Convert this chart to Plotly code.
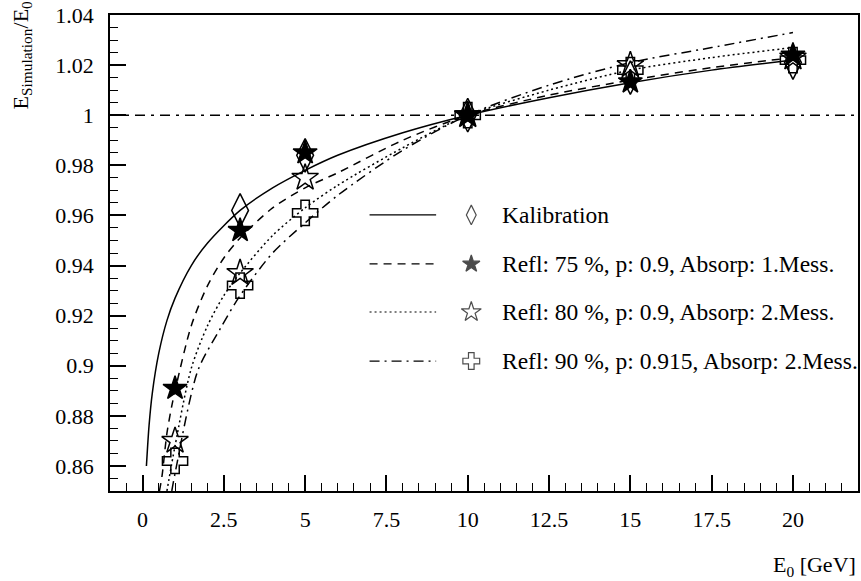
import plotly.graph_objects as go

# ---------------- data ----------------
energies = [1, 3, 5, 10, 15, 20]
kal_x = [3, 5, 10, 15, 20]
kal_y = [0.962, 0.984, 1.000, 1.015, 1.021]
r75_y = [0.891, 0.954, 0.985, 1.000, 1.0133, 1.024]
r80_y = [0.870, 0.937, 0.975, 1.000, 1.020, 1.023]
r90_y = [0.862, 0.932, 0.961, 1.000, 1.018, 1.022]

# fitted curves
kal_fit_x = [0.12, 0.2, 0.3, 0.5, 0.75, 1, 1.5, 2, 3, 4, 5, 6, 8, 10, 12.5, 15, 17.5, 20]
kal_fit_y = [0.860, 0.876, 0.889, 0.905, 0.918, 0.927, 0.940, 0.949, 0.962, 0.971, 0.978,
             0.984, 0.993, 1.000, 1.007, 1.013, 1.018, 1.022]
r75_fit_x = [0.52, 0.6, 0.75, 0.9, 1, 1.5, 2, 2.5, 3, 4, 5, 6, 8, 10, 12.5, 15, 17.5, 20]
r75_fit_y = [0.850, 0.856, 0.873, 0.884, 0.890, 0.916, 0.932, 0.943, 0.951, 0.963, 0.971,
             0.977, 0.990, 1.000, 1.008, 1.014, 1.019, 1.023]
r80_fit_x = [0.75, 1, 1.5, 2, 2.5, 3, 4, 5, 6, 8, 10, 12.5, 15, 17.5, 20]
r80_fit_y = [0.850, 0.868, 0.899, 0.916, 0.928, 0.937, 0.952, 0.963, 0.972, 0.987, 1.000,
             1.010, 1.018, 1.023, 1.027]
r90_fit_x = [0.9, 1, 1.7, 2.4, 3, 4, 5, 6, 8, 10, 12.5, 15, 17.5, 20]
r90_fit_y = [0.850, 0.857, 0.898, 0.915, 0.928, 0.945, 0.957, 0.968, 0.986, 1.000, 1.012,
             1.021, 1.027, 1.033]

ref_level = 1.0

legend_labels = ["Kalibration",
                 "Refl: 75 %, p: 0.9, Absorp: 1.Mess.",
                 "Refl: 80 %, p: 0.9, Absorp: 2.Mess.",
                 "Refl: 90 %, p: 0.915, Absorp: 2.Mess."]

# ---------------- styles ----------------
FONT = "Liberation Serif, Times New Roman, serif"
dashes = ["solid", "8px,6px", "2px,3px", "10px,5px,2px,5px"]
symbols = ["diamond-tall-open", "star", "star-open", "cross-open"]
msizes = [24, 18, 20, 21]

fig = go.Figure()

fits = [(kal_fit_x, kal_fit_y), (r75_fit_x, r75_fit_y), (r80_fit_x, r80_fit_y), (r90_fit_x, r90_fit_y)]
for (fx, fy), d in zip(fits, dashes):
    fig.add_trace(go.Scatter(x=fx, y=fy, mode="lines",
                             line=dict(color="black", width=1.5, dash=d, shape="spline", smoothing=0.8),
                             showlegend=False, hoverinfo="skip"))

pts = [(kal_x, kal_y), (energies, r75_y), (energies, r80_y), (energies, r90_y)]
for (px, py), s, ms in zip(pts, symbols, msizes):
    fig.add_trace(go.Scatter(x=px, y=py, mode="markers",
                             marker=dict(symbol=s, size=ms, color="black", line=dict(color="black", width=1.5)),
                             showlegend=False, cliponaxis=False))

fig.add_hline(y=ref_level, line=dict(color="black", width=1.5, dash="10px,6px,3px,6px"))

# ---------------- hand-drawn legend ----------------
row_y = [0.580, 0.477, 0.376, 0.273]
lx0, lx1, mx, tx = 0.347, 0.436, 0.483, 0.522
leg_sizes = [14, 13, 15, 14]
for i in range(4):
    fig.add_shape(type="line", xref="paper", yref="paper", x0=lx0, x1=lx1, y0=row_y[i], y1=row_y[i],
                  line=dict(color="black", width=1.2, dash=dashes[i]))
    fig.add_annotation(xref="paper", yref="paper", x=tx, y=row_y[i], text=legend_labels[i],
                       showarrow=False, xanchor="left", yanchor="middle",
                       font=dict(family=FONT, size=23.5, color="black"))
fig.add_trace(go.Scatter(x=[mx] * 4, y=row_y, xaxis="x2", yaxis="y2", mode="markers",
                         marker=dict(symbol=symbols, size=leg_sizes, color="black",
                                     line=dict(color="black", width=1.2)),
                         showlegend=False, hoverinfo="skip"))

# ---------------- axes titles ----------------
fig.add_annotation(xref="paper", yref="paper", x=1.0, y=0, yshift=-59, xanchor="right", yanchor="top",
                   text="E<sub>0</sub> [GeV]", showarrow=False, font=dict(family=FONT, size=22, color="black"))
fig.add_annotation(xref="paper", yref="paper", x=0, xshift=-89, y=1, yshift=16, xanchor="center", yanchor="top",
                   textangle=-90, text="E<sub>Simulation</sub>/E<sub>0</sub>", showarrow=False,
                   font=dict(family=FONT, size=22, color="black"))

axis_common = dict(showline=True, linecolor="black", linewidth=1.5, mirror=True, showgrid=False, zeroline=False,
                   ticks="inside", ticklen=16, tickwidth=1.5, tickcolor="black",
                   tickfont=dict(family=FONT, size=22, color="black"))
fig.update_layout(
    width=861, height=581,
    margin=dict(l=110, r=1, t=15, b=90),
    paper_bgcolor="white", plot_bgcolor="white",
    showlegend=False,
    font=dict(family=FONT, color="black"),
    xaxis=dict(range=[-1, 22], tick0=0, dtick=2.5, ticklabelstandoff=8,
               minor=dict(ticks="inside", ticklen=8, dtick=0.5, tick0=0, tickcolor="black", tickwidth=1.2),
               **axis_common),
    yaxis=dict(range=[0.85, 1.04], tick0=0.86, dtick=0.02, ticklabelstandoff=10,
               minor=dict(ticks="inside", ticklen=8, dtick=0.005, tick0=0.85, tickcolor="black", tickwidth=1.2),
               **axis_common),
    xaxis2=dict(overlaying="x", range=[0, 1], visible=False),
    yaxis2=dict(overlaying="y", range=[0, 1], visible=False),
)

fig.write_html("out.html")
